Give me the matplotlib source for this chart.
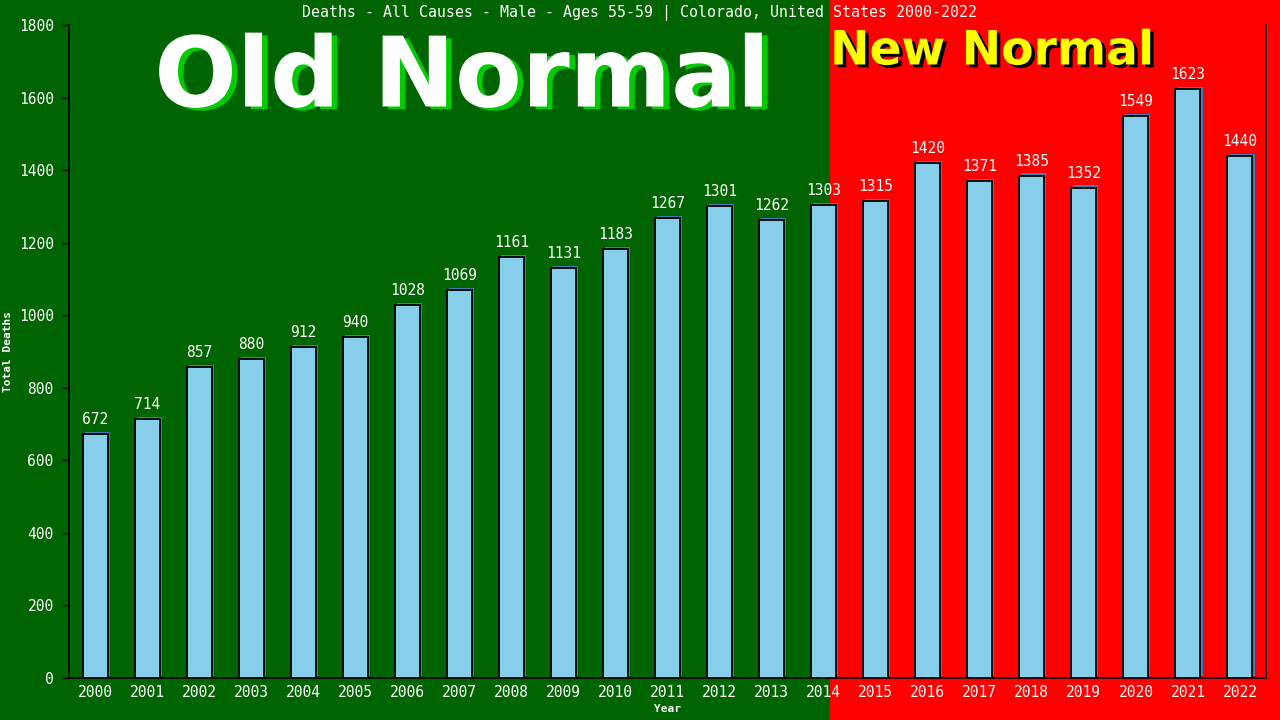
import matplotlib
matplotlib.use("Agg")
import matplotlib.pyplot as plt
import matplotlib.patheffects as pe
from matplotlib.patches import Rectangle

years = [str(y) for y in range(2000, 2023)]
deaths = [672, 714, 857, 880, 912, 940, 1028, 1069, 1161, 1131, 1183, 1267,
          1301, 1262, 1303, 1315, 1420, 1371, 1385, 1352, 1549, 1623, 1440]
title = "Deaths - All Causes - Male - Ages 55-59 | Colorado, United States 2000-2022"

mono = ["DejaVu Sans Mono", "Liberation Mono"]

fig = plt.figure(figsize=(12.8, 7.2), dpi=100, facecolor="#ff0000")
# green "old normal" background across the left of the figure
fig.patches.append(Rectangle((0, 0), 830 / 1280, 1, transform=fig.transFigure,
                             facecolor="#006400", edgecolor="none", zorder=-10))

ax = fig.add_axes([69 / 1280, 1 - 678 / 720, (1266 - 69) / 1280, (678 - 25) / 720])
ax.set_facecolor("none")

x = range(len(years))
bars = ax.bar(x, deaths, width=0.48, color="#87ceeb", edgecolor="black",
              linewidth=1.3, zorder=3)
for b in bars:
    b.set_path_effects([pe.SimplePatchShadow(offset=(1.5, 1.5), shadow_rgbFace="#3a7fb8", alpha=1),
                        pe.Normal()])

for i, v in enumerate(deaths):
    ax.annotate(str(v), (i, v), xytext=(0, 5), textcoords="offset points",
                ha="center", va="bottom", color="white", fontsize=10.5,
                family=mono, zorder=4)

ax.set_xlim(-0.5, len(years) - 0.5)
ax.set_ylim(0, 1800)
ax.set_yticks(range(0, 1801, 200))
ax.set_xticks(list(x))
ax.set_xticklabels(years)
ax.tick_params(axis="x", length=0, pad=5, colors="white", labelsize=10.5)
ax.tick_params(axis="y", length=5, width=1, color="black", colors="white", labelsize=10.5, pad=6)
for lab in ax.get_xticklabels() + ax.get_yticklabels():
    lab.set_family(mono)
    lab.set_color("white")

ax.spines["top"].set_visible(False)
for s in ["left", "bottom", "right"]:
    ax.spines[s].set_color("black")
    ax.spines[s].set_linewidth(1.2)

ax.set_xlabel("Year", color="white", fontsize=8, family=mono, fontweight="bold", labelpad=3)
ax.set_ylabel("Total Deaths", color="white", fontsize=8, family=mono, fontweight="bold")
ax.yaxis.set_label_coords((13 - 69) / 1197, 0.5)

fig.text(640 / 1280, 1 - 13 / 720, title, ha="center", va="center",
         color="white", fontsize=10.7, family=mono)

fig.text(462 / 1280, 1 - 80 / 720, "Old Normal", ha="center", va="center",
         color="white", fontsize=70, fontweight="bold", family="DejaVu Sans",
         path_effects=[pe.SimplePatchShadow(offset=(4, -2), shadow_rgbFace="#00cc00", alpha=1),
                       pe.Normal()])
fig.text(830 / 1280, 1 - 52 / 720, "New Normal", ha="left", va="center",
         color="#ffff00", fontsize=34, fontweight="bold", family="DejaVu Sans",
         path_effects=[pe.SimplePatchShadow(offset=(2.5, -2), shadow_rgbFace="black", alpha=1),
                       pe.Normal()])

fig.savefig("out.png", dpi=100, facecolor=fig.get_facecolor())
